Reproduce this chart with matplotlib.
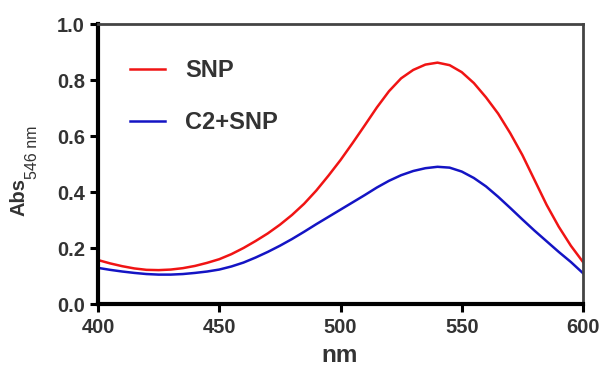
import matplotlib.pyplot as plt
import numpy as np

# Absorbance spectra, read every 5 nm
wavelength = np.arange(400, 601, 5)
snp = [0.157, 0.145, 0.135, 0.127, 0.122, 0.121, 0.123, 0.128, 0.136, 0.147,
       0.160, 0.178, 0.200, 0.225, 0.252, 0.283, 0.318, 0.358, 0.405, 0.458,
       0.514, 0.575, 0.638, 0.702, 0.760, 0.806, 0.836, 0.855, 0.862, 0.853,
       0.828, 0.789, 0.738, 0.680, 0.610, 0.532, 0.443, 0.354, 0.276, 0.208,
       0.150]
c2_snp = [0.129, 0.122, 0.116, 0.111, 0.107, 0.105, 0.105, 0.107, 0.111, 0.116,
          0.123, 0.134, 0.148, 0.166, 0.186, 0.208, 0.232, 0.258, 0.285, 0.311,
          0.337, 0.363, 0.389, 0.416, 0.440, 0.460, 0.475, 0.485, 0.490, 0.487,
          0.473, 0.450, 0.420, 0.383, 0.343, 0.302, 0.262, 0.224, 0.186, 0.150,
          0.110]

plt.rcParams.update({
    "font.family": ["Liberation Sans", "DejaVu Sans"],
    "font.weight": "bold",
})
text_color = "#333333"

W, H = 606, 367
fig = plt.figure(figsize=(W / 100, H / 100), dpi=100)
ax = fig.add_axes([98 / W, 1 - 304 / H, (583 - 98) / W, (304 - 24) / H])

ax.plot(wavelength, snp, color="#f01414", lw=1.8, label="SNP")
ax.plot(wavelength, c2_snp, color="#1414c4", lw=1.8, label="C2+SNP")

ax.set_xlim(400, 600)
ax.set_ylim(0, 1.0)
ax.set_xticks([400, 450, 500, 550, 600])
ax.set_yticks([0.0, 0.2, 0.4, 0.6, 0.8, 1.0])
ax.set_yticklabels(["0.0", "0.2", "0.4", "0.6", "0.8", "1.0"])

for side in ["left", "bottom"]:
    ax.spines[side].set_linewidth(3.0)
for side in ["top", "right"]:
    ax.spines[side].set_linewidth(2.0)
    ax.spines[side].set_color("#444444")
ax.tick_params(axis="both", direction="out", length=6, width=2.2,
               labelsize=14.5, labelcolor=text_color)
ax.tick_params(axis="y", pad=3.5)
ax.tick_params(axis="x", pad=4)
for lab in ax.get_xticklabels() + ax.get_yticklabels():
    lab.set_fontweight("bold")

# axis titles
fig.text(340 / W, 1 - 362 / H, "nm", ha="center", va="baseline",
         fontsize=17.5, fontweight="bold", color=text_color)
fig.text(19 / W, 1 - 216 / H, "Abs", rotation=90, ha="center", va="bottom",
         fontsize=14.5, fontweight="bold", color=text_color)
fig.text(25 / W, 1 - 179 / H, "546 nm", rotation=90, ha="left", va="bottom",
         fontsize=11.5, fontweight="normal", color=text_color)

leg = ax.legend(loc="upper left", bbox_to_anchor=((130 - 98) / 485, (304 - 59) / 280),
                frameon=False, borderpad=0, borderaxespad=0,
                handlelength=1.5, handletextpad=0.85, labelspacing=1.24,
                prop={"size": 17, "weight": "bold"})
for t in leg.get_texts():
    t.set_color(text_color)

fig.savefig("out.png", dpi=100)
